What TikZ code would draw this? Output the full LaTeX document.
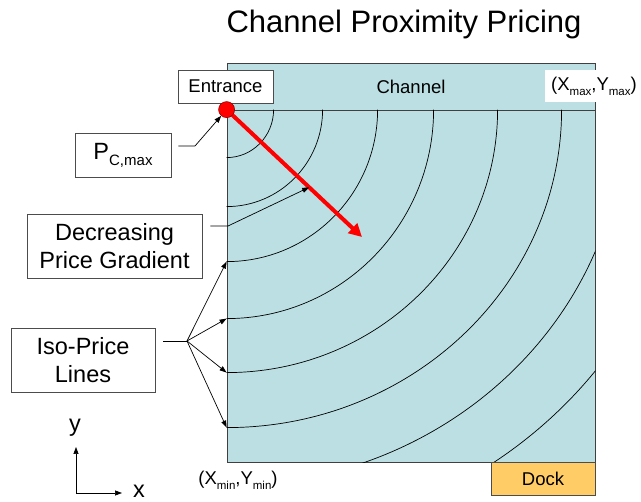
\documentclass[tikz,border=0pt]{standalone}
\usepackage{fontspec}
\setmainfont{Liberation Sans}
\usetikzlibrary{arrows.meta}
\definecolor{water}{RGB}{187,223,227}
\definecolor{dockfill}{RGB}{255,204,102}
\newcommand\lowtext[2]{\raisebox{-.25em}{\fontsize{#1}{#1}\selectfont #2}}
\tikzset{
  zone/.style={draw=black!75,fill=water,line width=.8pt,inner sep=0pt},
  note/.style={draw=black!70,fill=white,line width=.8pt,inner sep=0pt,align=center},
  ptr/.style={-{Triangle[length=7pt,width=5pt]},line width=.7pt},
  axis/.style={{Triangle[length=7pt,width=5pt]}-{Triangle[length=7pt,width=5pt]},line width=.7pt},
  isoline/.style={line width=.7pt},
  gradarrow/.style={red,line width=4pt,-{Triangle[length=13pt,width=13pt]}},
  big/.style={font=\fontsize{23.5}{28}\selectfont},
  mid/.style={font=\fontsize{18.5}{20}\selectfont}
}

\begin{document}
\begin{tikzpicture}[x=1pt,y=-1pt]
\useasboundingbox (0,0) rectangle (641,502);

\node[font=\fontsize{31}{31}\selectfont] (title) at (404,24) {Channel Proximity Pricing};

\node[zone,minimum width=368pt,minimum height=47pt,mid] (channel) at (411,86.5) {Channel};
\node[zone,minimum width=368pt,minimum height=352pt] (basin) at (411,286) {};
\coordinate (src) at (basin.north west);

\begin{scope}
\clip (basin.north west) rectangle (basin.south east);
\foreach \rx/\ry [count=\i] in {47/48,96/97,151/152,207/209,271/263,335/318,398/376,463/432}{
  \draw[isoline] (src) ++(\rx,0) arc[start angle=0,end angle=90,x radius=\rx,y radius=\ry] coordinate (iso\i);
}
\end{scope}

\coordinate (gradtip) at (362,237);
\draw[gradarrow] (src) -- coordinate[pos=.61] (gradmid) (gradtip);

\node[note,minimum width=95pt,minimum height=33pt,mid] (entrance) at (225.5,86.5) {Entrance};
\node[fill=white,anchor=west,inner xsep=6pt,inner ysep=0pt,minimum height=32pt,mid] (xymax) at (545,86.5) {(X\lowtext{11.5}{max},Y\lowtext{11.5}{max})};
\node[circle,fill=red,draw=red!60!black,line width=.6pt,minimum size=16pt,inner sep=0pt] (dot) at (src) {};

\node[note,minimum width=96pt,minimum height=44pt,big] (pcmax) at (123,155) {P\lowtext{15}{C,max}};
\node[note,minimum width=175pt,minimum height=64pt,big] (gradlabel) at (114.5,246) {Decreasing\\Price Gradient};
\node[note,minimum width=144pt,minimum height=64pt,big] (isolabel) at (83,360) {Iso-Price\\Lines};
\node[draw=black!70,fill=dockfill,line width=.8pt,minimum width=104pt,minimum height=33pt,mid] (dock) at (543,478.5) {Dock};
\node[mid] (xymin) at (238,480) {(X\lowtext{11.5}{min},Y\lowtext{11.5}{min})};

\coordinate (pcbend) at (195,146);
\draw[ptr,shorten <=7pt] (pcmax.east |- pcbend) -- (pcbend) -- (dot);

\coordinate (gradbend) at (228,226);
\draw[ptr,shorten <=8pt] (gradlabel.east |- gradbend) -- (gradbend) -- (gradmid);

\coordinate (isofork) at (187,341);
\draw[isoline,shorten <=8pt] (isolabel.east |- isofork) -- (isofork);
\foreach \j in {3,...,6}
  \draw[ptr] (isofork) -- (iso\j);

\coordinate (origin) at (76,493);
\coordinate (yend) at (76,447);
\coordinate (xend) at (122,493);
\draw[axis] (yend) -- (origin) -- (xend);
\node[big] (ylab) at (75,428) {y};
\node[big] (xlab) at (139,491) {x};
\end{tikzpicture}
\end{document}
